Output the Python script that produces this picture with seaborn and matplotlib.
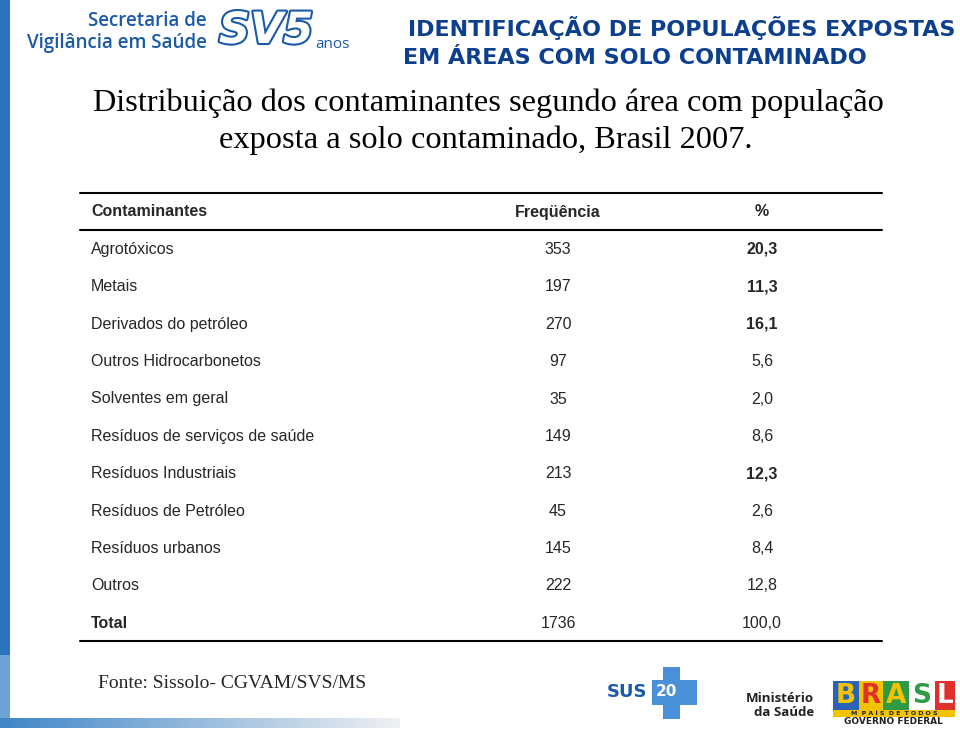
import matplotlib
matplotlib.use('Agg')
import matplotlib.pyplot as plt
import matplotlib.patheffects as pe
import numpy as np
import seaborn as sns

# Table data
contaminantes = ['Agrotóxicos', 'Metais', 'Derivados do petróleo', 'Outros Hidrocarbonetos',
                 'Solventes em geral', 'Resíduos de serviços de saúde', 'Resíduos Industriais',
                 'Resíduos de Petróleo', 'Resíduos urbanos', 'Outros', 'Total']
frequencia = [353, 197, 270, 97, 35, 149, 213, 45, 145, 222, 1736]
percentual = ['20,3', '11,3', '16,1', '5,6', '2,0', '8,6', '12,3', '2,6', '8,4', '12,8', '100,0']
pct_bold = [True, True, True, False, False, False, True, False, False, False, False]
colunas = ['Contaminantes', 'Freqüência', '%']

sns.set_theme(style='white')
plt.rcParams['font.family'] = ['Liberation Sans Narrow', 'Liberation Sans', 'DejaVu Sans']

fig = plt.figure(figsize=(9.6, 7.34), dpi=100)
ax = fig.add_axes([0, 0, 1, 1])
ax.set_xlim(0, 960)
ax.set_ylim(734, 0)
ax.axis('off')

blue = '#1a5aa8'
dark_blue = '#0d3f8f'
light_blue = '#4a90d8'

# left border bar and bottom gradient
ax.add_patch(plt.Rectangle((0, 0), 10, 655, color='#2b74bd', lw=0))
ax.add_patch(plt.Rectangle((0, 655), 10, 70, color='#6ea3d6', lw=0))
grad = np.linspace(0, 1, 256).reshape(1, -1)
ax.imshow(grad, extent=(0, 400, 728, 718), cmap=sns.light_palette('#3f86c8', reverse=True, as_cmap=True),
          aspect='auto', zorder=1)

# top-left logo
sans_logo = ['Open Sans', 'DejaVu Sans']
ax.text(207, 21, 'Secretaria de', ha='right', va='center', fontsize=13.5, color=blue,
        family=sans_logo, fontweight='semibold')
ax.text(207, 43, 'Vigilância em Saúde', ha='right', va='center', fontsize=13.5, color=blue,
        family=sans_logo, fontweight='semibold')
ax.text(219, 31, 'SV5', ha='left', va='center', fontsize=31, color='white', fontweight='bold',
        style='italic', family=['DejaVu Sans'],
        path_effects=[pe.withStroke(linewidth=3, foreground=blue)])
ax.text(315, 45, 'anos', ha='left', va='center', fontsize=11, color=blue, family=sans_logo)

# header title
ax.text(955, 28, 'IDENTIFICAÇÃO DE POPULAÇÕES EXPOSTAS', ha='right', va='center', fontsize=16,
        color=dark_blue, fontweight='bold', family=['DejaVu Sans'])
ax.text(403, 58, 'EM ÁREAS COM SOLO CONTAMINADO', ha='left', va='center', fontsize=16,
        color=dark_blue, fontweight='bold', family=['DejaVu Sans'])

# chart title
serif = ['Liberation Serif', 'DejaVu Serif']
ax.text(488, 103, 'Distribuição dos contaminantes segundo área com população', ha='center',
        va='center', fontsize=23.3, color='black', family=serif)
ax.text(486, 140, 'exposta a solo contaminado, Brasil 2007.', ha='center', va='center',
        fontsize=23.3, color='black', family=serif)

# table
x0, x1 = 80, 882
col_x = [91, 558, 762]
row_h = 37.4
header_y = 212
ax.plot([x0, x1], [193, 193], color='black', lw=1.5)
ax.plot([x0, x1], [230, 230], color='black', lw=1.5)
ax.plot([x0, x1], [641, 641], color='black', lw=1.5)

ax.text(col_x[0], header_y, colunas[0], ha='left', va='center', fontsize=11.5, fontweight='bold')
ax.text(col_x[1], header_y, colunas[1], ha='center', va='center', fontsize=11.5, fontweight='bold')
ax.text(col_x[2], header_y, colunas[2], ha='center', va='center', fontsize=11.5, fontweight='bold')

for i, (nome, f, p, b) in enumerate(zip(contaminantes, frequencia, percentual, pct_bold)):
    y = header_y + row_h * (i + 1)
    total = nome == 'Total'
    ax.text(col_x[0], y, nome, ha='left', va='center', fontsize=11.5,
            fontweight='bold' if total else 'normal')
    ax.text(col_x[1], y, str(f), ha='center', va='center', fontsize=11.5)
    ax.text(col_x[2], y, p, ha='center', va='center', fontsize=11.5,
            fontweight='bold' if b else 'normal')

# source
ax.text(98, 684, 'Fonte: Sissolo- CGVAM/SVS/MS', ha='left', va='center', fontsize=14, family=serif)

# SUS logo
ax.add_patch(plt.Rectangle((663, 667), 17, 52, color=light_blue, lw=0))
ax.add_patch(plt.Rectangle((652, 680), 45, 25, color=light_blue, lw=0))
ax.text(607, 692, 'SUS', ha='left', va='center', fontsize=13, color=blue, fontweight='bold',
        family=['Liberation Sans Narrow', 'DejaVu Sans'])
ax.text(666, 692, '20', ha='center', va='center', fontsize=11, color='white', fontweight='bold',
        family=['DejaVu Sans'])

# Ministerio + Brasil logo
ax.text(814, 698, 'Ministério', ha='right', va='center', fontsize=9.5, color='#222222',
        fontweight='bold', family=sans_logo)
ax.text(814, 712, 'da Saúde', ha='right', va='center', fontsize=9.5, color='#222222',
        fontweight='bold', family=sans_logo)
letras = ['B', 'R', 'A', 'S', 'L']
fundos = ['#2a62b8', '#f2c300', '#2e9a45', '#ffffff', '#e0302b']
cores = ['#f2c300', '#e0302b', '#f2c300', '#2e9a45', '#ffffff']
larg = [26, 24, 26, 26, 20]
xl = 833
for l, fb, c, w in zip(letras, fundos, cores, larg):
    ax.add_patch(plt.Rectangle((xl, 681), w, 29, color=fb, lw=0))
    ax.text(xl + w / 2, 696, l, ha='center', va='center', fontsize=19, color=c, fontweight='bold',
            family=['DejaVu Sans'])
    xl += w
ax.add_patch(plt.Rectangle((833, 710), 122, 7, color='#f2c300', lw=0))
ax.text(894, 713.5, 'M  P A Í S  D E  T O D O S', ha='center', va='center', fontsize=4.5,
        color='#222222', fontweight='bold', family=['DejaVu Sans'])
ax.text(893, 722, 'GOVERNO FEDERAL', ha='center', va='center', fontsize=6.5, color='#222222',
        fontweight='bold', family=['DejaVu Sans'])

fig.savefig('out.png', dpi=100)
